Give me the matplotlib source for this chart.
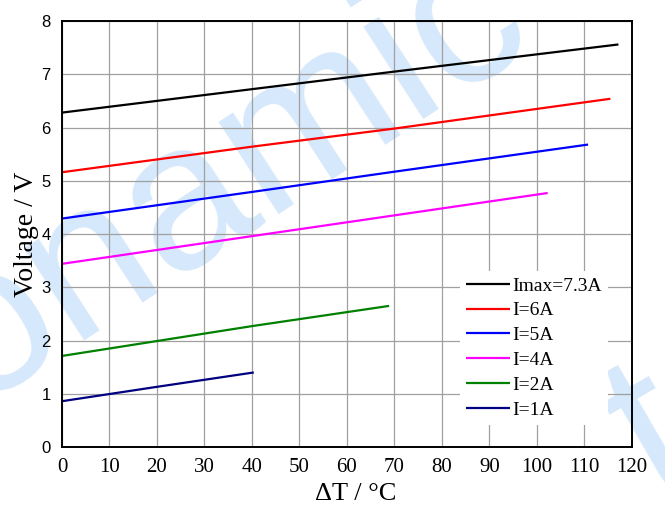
import matplotlib
matplotlib.use('Agg')
import matplotlib.pyplot as plt

# series (deltaT in degC, voltage in V)
labels = ['Imax=7.3A', 'I=6A', 'I=5A', 'I=4A', 'I=2A', 'I=1A']
dt_imax = [0, 40, 70, 117.2]
v_imax = [6.28, 6.72, 7.05, 7.56]
dt_6a = [0, 40, 70, 115.5]
v_6a = [5.16, 5.64, 5.98, 6.54]
dt_5a = [0, 40, 70, 110.8]
v_5a = [4.29, 4.79, 5.17, 5.68]
dt_4a = [0, 40, 70, 102.3]
v_4a = [3.44, 3.96, 4.35, 4.77]
dt_2a = [0, 20, 40, 68.9]
v_2a = [1.71, 1.99, 2.27, 2.65]
dt_1a = [0, 20, 40.4]
v_1a = [0.86, 1.13, 1.40]

colors = ['#000000', '#ff0000', '#0000ff', '#ff00ff', '#008000', '#000080']
series = [(dt_imax, v_imax), (dt_6a, v_6a), (dt_5a, v_5a),
          (dt_4a, v_4a), (dt_2a, v_2a), (dt_1a, v_1a)]

fig = plt.figure(figsize=(6.65, 5.09), dpi=100)
ax = fig.add_axes([0.0932, 0.1218, 0.8568, 0.8369])
ax.set_facecolor('none')

# faint watermark behind the plot
wm = dict(color='#d6e8fb', family='Liberation Sans', ha='center',
          va='center', zorder=-10)
fig.text(0.34, 0.65, 'onamic', fontsize=150, rotation=33, **wm)
fig.text(0.985, 0.14, 't', fontsize=155, rotation=30, **wm)

for (x, y), c, lab in zip(series, colors, labels):
    ax.plot(x, y, color=c, lw=1.6, label=lab, solid_capstyle='butt')

ax.set_xlim(0, 120)
ax.set_ylim(0, 8)
ax.set_xticks(range(0, 121, 10))
ax.set_yticks(range(0, 9))
ax.grid(True, color='#a0a0a0', lw=0.9)
ax.set_axisbelow(True)
ax.tick_params(length=0, pad=8)
for lab in ax.get_xticklabels():
    lab.set_family('Liberation Serif')
    lab.set_fontsize(15)
for lab in ax.get_yticklabels():
    lab.set_family('Liberation Sans')
    lab.set_fontsize(12)
for s in ax.spines.values():
    s.set_linewidth(1.4)

ax.set_xlabel('ΔT / °C', family='Liberation Serif', fontsize=19)
ax.set_ylabel('Voltage / V', family='Liberation Serif', fontsize=20)
ax.xaxis.set_label_coords(0.516, -0.085)
ax.yaxis.set_label_coords(-0.040, 0.5)

leg = ax.legend(loc='lower right', bbox_to_anchor=(0.975, 0.03),
                prop={'family': 'Liberation Serif', 'size': 14},
                frameon=True, fancybox=False, framealpha=1,
                edgecolor='none', handlelength=2.3, handletextpad=0.1,
                labelspacing=0.37, borderpad=0.3)
leg.get_frame().set_facecolor('white')

fig.savefig('out.png', dpi=100)
